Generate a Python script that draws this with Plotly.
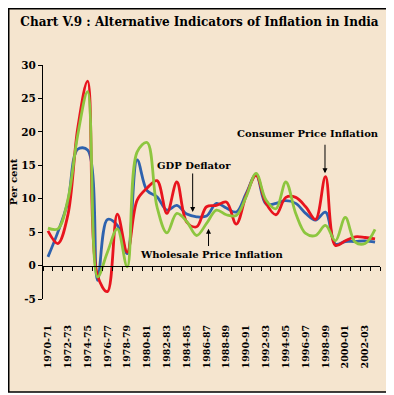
import plotly.graph_objects as go

years = ["1970-71", "1971-72", "1972-73", "1973-74", "1974-75", "1975-76", "1976-77",
         "1977-78", "1978-79", "1979-80", "1980-81", "1981-82", "1982-83", "1983-84",
         "1984-85", "1985-86", "1986-87", "1987-88", "1988-89", "1989-90", "1990-91",
         "1991-92", "1992-93", "1993-94", "1994-95", "1995-96", "1996-97", "1997-98",
         "1998-99", "1999-00", "2000-01", "2001-02", "2002-03", "2003-04"]

gdp_deflator = [1.3, 5.0, 9.5, 17.4, 17.3, -2.2, 6.9, 6.0, 1.8, 15.8, 11.2, 10.3, 8.3, 9.0,
                7.7, 7.3, 7.4, 9.3, 8.6, 8.0, 10.8, 13.6, 9.2, 9.3, 9.7, 9.3, 7.8, 6.8,
                8.0, 3.2, 3.6, 3.6, 3.7, 3.5]
cpi = [5.2, 3.3, 7.5, 20.5, 27.6, -1.5, -3.9, 7.7, 2.0, 9.8, 11.6, 12.7, 7.8, 12.5,
       6.5, 5.8, 8.8, 9.0, 9.5, 6.2, 10.5, 13.5, 9.3, 7.6, 10.2, 10.2, 8.8, 6.9,
       13.3, 3.0, 3.7, 4.3, 4.2, 4.0]
wpi = [5.6, 5.5, 9.8, 19.5, 26.0, -1.7, 2.0, 5.5, -0.2, 17.0, 18.4, 8.8, 4.9, 7.8,
       6.6, 4.5, 6.3, 8.3, 7.6, 7.5, 10.3, 13.8, 9.8, 8.5, 12.5, 7.8, 4.8, 4.5,
       6.0, 3.7, 7.2, 3.5, 3.3, 5.4]

yticks = [-5, 0, 5, 10, 15, 20, 25, 30]

BG = "#F5E5CF"
FONT = "DejaVu Serif"
idx = list(range(len(years)))

# page body adds an 8px offset, so the figure is 8px smaller than the window
W, H = 386, 387
L, R, T, B = 35, 14, 57, 96
PW, PH = W - L - R, H - T - B

fig = go.Figure()
for name, vals, col in [("GDP Deflator", gdp_deflator, "#2E62AE"),
                        ("Consumer Price Inflation", cpi, "#E8141E"),
                        ("Wholesale Price Inflation", wpi, "#8DC63F")]:
    fig.add_trace(go.Scatter(x=idx, y=vals, mode="lines", name=name,
                             line=dict(color=col, width=2.8, shape="spline", smoothing=1),
                             showlegend=False, hoverinfo="skip"))
# invisible trace so the zero-crossing axis is drawn
fig.add_trace(go.Scatter(x=idx, y=wpi, xaxis="x2", mode="lines",
                         line=dict(width=0, color="rgba(0,0,0,0)"),
                         showlegend=False, hoverinfo="skip"))

fig.update_layout(
    width=W, height=H,
    margin=dict(l=L, r=R, t=T, b=B, autoexpand=False),
    paper_bgcolor="white", plot_bgcolor=BG,
    font=dict(family=FONT, color="black"),
    title=dict(text="<b>Chart V.9 : Alternative Indicators of Inflation in India</b>",
               x=(383 / 2) / W, xanchor="center", y=1 - 14 / H, yanchor="middle",
               font=dict(family=FONT, size=12, color="black")),
    xaxis=dict(range=[-0.5, len(years) - 0.5], tickmode="array", automargin=False,
               tickvals=idx[::2], ticktext=["<b>%s</b>" % t for t in years[::2]],
               tickangle=-90, showline=False, showgrid=False, zeroline=False,
               ticks="outside", ticklen=21, tickcolor="rgba(0,0,0,0)",
               tickfont=dict(family=FONT, size=9.5, color="black")),
    xaxis2=dict(range=[-0.5, len(years) - 0.5], overlaying="x", anchor="free",
                position=5 / 35, side="bottom", tickmode="array", automargin=False,
                tickvals=[i - 0.5 for i in range(len(years) + 1)],
                showticklabels=False, showline=True, linecolor="black", linewidth=1,
                ticks="outside", ticklen=4, tickcolor="black", tickwidth=1,
                showgrid=False, zeroline=False),
    yaxis=dict(range=[-5, 30], tickmode="array", tickvals=yticks, automargin=False,
               ticktext=["<b>%d</b>" % v for v in yticks],
               showline=True, linecolor="black", linewidth=1,
               ticks="outside", ticklen=4, tickcolor="black",
               showgrid=False, zeroline=False,
               tickfont=dict(family=FONT, size=10.5, color="black"),
               title=dict(text="<b>Per cent</b>", standoff=5,
                          font=dict(family=FONT, size=10, color="black"))),
)

# outer border with beige fill
fig.add_shape(type="rect", xref="paper", yref="paper",
              x0=(0.75 - L) / PW, x1=(383 - L) / PW,
              y0=(T + PH - 384) / PH, y1=(T + PH - 0.75) / PH,
              line=dict(color="black", width=1.5), fillcolor=BG, layer="below")

afont = dict(family=FONT, size=10, color="black")
# labels
fig.add_annotation(x=14.73, y=15.0, text="<b>GDP Deflator</b>", showarrow=False, font=afont)
fig.add_annotation(x=26.2, y=19.7, text="<b>Consumer Price Inflation</b>", showarrow=False, font=afont)
fig.add_annotation(x=16.45, y=1.7, text="<b>Wholesale Price Inflation</b>", showarrow=False, font=afont)
# arrows
for (x, y, ay) in [(14.6, 8.0, 14.0), (27.95, 13.8, 18.3), (16.2, 5.5, 2.7)]:
    fig.add_annotation(x=x, y=y, ax=x, ay=ay, axref="x", ayref="y", text="",
                       showarrow=True, arrowhead=2, arrowsize=1, arrowwidth=1,
                       arrowcolor="black")

fig.write_html("out.html")
